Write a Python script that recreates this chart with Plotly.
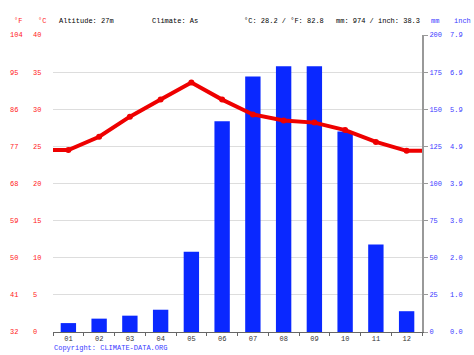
import plotly.graph_objects as go

months = ["01", "02", "03", "04", "05", "06", "07", "08", "09", "10", "11", "12"]
temp_c = [24.5, 26.3, 29.0, 31.3, 33.6, 31.3, 29.3, 28.5, 28.2, 27.2, 25.6, 24.4]
precip_mm = [6, 9, 11, 15, 54, 142, 172, 179, 179, 135, 59, 14]

c_ticks = [0, 5, 10, 15, 20, 25, 30, 35, 40]
f_ticks = [32, 41, 50, 59, 68, 77, 86, 95, 104]
mm_ticks = [0, 25, 50, 75, 100, 125, 150, 175, 200]
inch_labels = ["0.0", "1.0", "2.0", "3.0", "3.9", "4.9", "5.9", "6.9", "7.9"]

header_left = "Altitude: 27m"
header_climate = "Climate: As"
header_temp = "°C: 28.2 / °F: 82.8"
header_prec = "mm: 974 / inch: 38.3"
copyright_text = "Copyright: CLIMATE-DATA.ORG"

W, H = 474, 355
L, R = 53, 422
FONT = "Liberation Mono"
RED = "#ff2020"
BLUE = "#3a3aff"
FS = 7

pos = list(range(1, len(months) + 1))
line_x = [pos[0] - 0.5] + pos + [pos[-1] + 0.5]
line_y = [temp_c[0]] + temp_c + [temp_c[-1]]

fig = go.Figure()
fig.add_trace(go.Bar(x=pos, y=precip_mm, width=0.5, marker=dict(color="#0a28ff", line=dict(width=0)),
                     yaxis="y", showlegend=False, hoverinfo="skip"))
fig.add_trace(go.Scatter(x=line_x, y=line_y, mode="lines", line=dict(color="#ee0000", width=4),
                         yaxis="y2", showlegend=False, hoverinfo="skip"))
fig.add_trace(go.Scatter(x=pos, y=temp_c, mode="markers", marker=dict(color="#ee0000", size=6),
                         yaxis="y2", showlegend=False, hoverinfo="skip"))

tickfont_red = dict(family=FONT, size=FS, color=RED)
tickfont_blue = dict(family=FONT, size=FS, color=BLUE)

fig.update_layout(
    width=W, height=H,
    margin=dict(l=0, r=0, t=35, b=23, autoexpand=False),
    paper_bgcolor="white", plot_bgcolor="white",
    font=dict(family=FONT, size=FS, color="black"),
    xaxis=dict(domain=[L / W, R / W], range=[0.5, 12.5], tickvals=pos, ticktext=months,
               ticks="", showline=True, linecolor="#666", linewidth=1, showgrid=False, zeroline=False,
               tickfont=dict(family=FONT, size=FS, color="#333"),
               minor=dict(tick0=0.5, dtick=1, ticks="outside", ticklen=3, tickcolor="#666")),
    yaxis=dict(range=[0, 200], tickvals=mm_ticks, side="right", anchor="x", showline=True,
               linecolor="#999", linewidth=2, ticks="outside", ticklen=4, tickcolor="#999",
               showgrid=False, zeroline=False, tickfont=tickfont_blue),
    yaxis2=dict(range=[0, 40], tickvals=c_ticks, overlaying="y", anchor="free", side="right",
                position=32 / W, showgrid=True, gridcolor="#dddddd", gridwidth=1, zeroline=False,
                ticks="", showline=False, tickfont=tickfont_red),
    yaxis3=dict(range=[32, 104], tickvals=f_ticks, overlaying="y", anchor="free", side="right",
                position=9 / W, showgrid=False, zeroline=False, ticks="", showline=False,
                tickfont=tickfont_red),
    yaxis4=dict(range=[0, 200], tickvals=mm_ticks, ticktext=inch_labels, overlaying="y", anchor="free",
                side="right", position=449 / W, showgrid=False, zeroline=False, ticks="",
                showline=False, tickfont=tickfont_blue),
)
# dummy traces so the extra axes are rendered
fig.add_trace(go.Scatter(x=[None], y=[None], yaxis="y3", showlegend=False))
fig.add_trace(go.Scatter(x=[None], y=[None], yaxis="y4", showlegend=False))

hy = 1 + 14.3 / 297
anns = [
    ("°F", 12, RED), ("°C", 36, RED), (header_left, 57, "black"), (header_climate, 150, "black"),
    (header_temp, 242, "black"), (header_prec, 334, "black"), ("mm", 429, BLUE), ("inch", 452, BLUE),
]
for txt, px, col in anns:
    fig.add_annotation(text=txt, x=px / W, y=hy, xref="paper", yref="paper", xanchor="left",
                       yanchor="middle", showarrow=False, font=dict(family=FONT, size=FS, color=col))
fig.add_annotation(text=copyright_text, x=52 / W, y=-(348 - 332) / 297, xref="paper", yref="paper",
                   xanchor="left", yanchor="middle", showarrow=False,
                   font=dict(family=FONT, size=FS, color=BLUE))

fig.write_html("out.html", config={"displayModeBar": False},
               post_script="document.body.style.margin='0';")
